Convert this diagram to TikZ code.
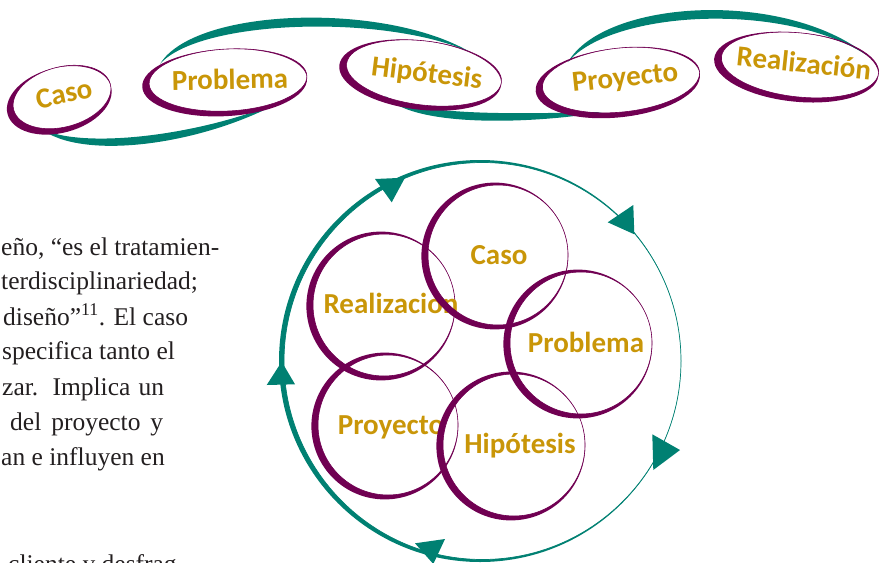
\documentclass[tikz,border=0pt]{standalone}
\usepackage{fontspec}
\setmainfont{Liberation Serif}
\newfontfamily\stagefont{Carlito}
\usetikzlibrary{positioning}

\definecolor{ringpurple}{RGB}{112,0,82}
\definecolor{loopteal}{RGB}{0,128,114}
\definecolor{stagegold}{RGB}{201,150,8}
\definecolor{bodygray}{RGB}{35,31,32}

\newcommand{\ovalring}[5]{%
  \begin{scope}[shift={(#1,#2)}, rotate=#5]
    \fill[ringpurple, even odd rule] (-3.5,2.5) ellipse [x radius=#3+3.5, y radius=#4+2.5]
      (0,0) ellipse [x radius=#3, y radius=#4];
    \draw[ringpurple, line width=0.6pt] (0,0) ellipse [x radius=#3, y radius=#4];
  \end{scope}}
\newcommand{\roundring}[3]{%
  \fill[ringpurple, even odd rule] (#1-3.2,#2+1) circle [radius=#3+3.4] (#1,#2) circle [radius=#3];
  \draw[ringpurple, line width=0.6pt] (#1,#2) circle [radius=#3];}

\begin{document}
\begin{tikzpicture}[x=1pt, y=-1pt,
  stage/.style={font=\stagefont\bfseries\fontsize{29}{31}\selectfont, text=stagegold, inner sep=0pt, text height=18.6pt, text depth=0pt},
  bodyline/.style={anchor=base west, inner sep=0pt, font=\fontsize{25.5}{30}\selectfont, text=bodygray},
  ribbon/.style={fill=loopteal},
  arrowtip/.style={fill=loopteal}
]
\useasboundingbox (0,0) rectangle (885,562);

\node[bodyline] (p1) at (1,255) {eño, “es el tratamien-};
\node[bodyline] (p2) at (1,289) {terdisciplinariedad;};
\node[bodyline] (p3) at (3,325) {diseño”\textsuperscript{11}. El caso};
\node[bodyline] (p4) at (2,359) {specifica tanto el};
\node[bodyline] (p5) at (2,395) {\makebox[162pt][s]{zar. Implica un}};
\node[bodyline] (p6) at (10,430) {\makebox[153pt][s]{del proyecto y}};
\node[bodyline] (p7) at (1,465) {an e influyen en};
\node[bodyline] (p8) at (8,572) {cliente y desfrag-};

\coordinate (a0) at (40,128);  \coordinate (a1) at (282,101);
\coordinate (b0) at (160,64);  \coordinate (b1) at (470,52);
\coordinate (c0) at (385,96);  \coordinate (c1) at (602,112);
\coordinate (d0) at (568,62);  \coordinate (d1) at (868,56);
\fill[ribbon] (a0) .. controls (80,161) and (200,146) .. (a1) .. controls (200,136) and (80,150) .. (a0) -- cycle;
\fill[ribbon] (b0) .. controls (195,7) and (385,2) .. (b1) .. controls (385,14) and (200,19) .. (b0) -- cycle;
\fill[ribbon] (c0) .. controls (415,129) and (540,123) .. (c1) .. controls (540,113) and (420,118) .. (c0) -- cycle;
\fill[ribbon] (d0) .. controls (605,-1) and (785,-11) .. (d1) .. controls (785,1) and (612,10) .. (d0) -- cycle;

\ovalring{62}{97}{50}{30}{15}
\ovalring{228}{80}{79}{31}{3}
\ovalring{424}{73}{78}{32}{-7}
\ovalring{621}{80}{79}{32}{6}
\ovalring{800}{65}{79}{32}{-6}
\node[stage, rotate=12] (caso) at (64,94) {Caso};
\node[stage, rotate=1] (problema) at (230,80) {Problema};
\node[stage, rotate=-7] (hipotesis) at (427,73) {Hipótesis};
\node[stage, rotate=6] (proyecto) at (625,77) {Proyecto};
\node[stage, rotate=-6] (realizacion) at (804,63.5) {Realización};

\fill[loopteal, even odd rule] (480,361) circle [radius=201] (482.5,361) circle [radius=198.5];
\draw[loopteal, line width=0.7pt] (482.5,361) circle [radius=198.5];
\fill[arrowtip] (375,179) -- (405,177.7) -- (391.7,202.3) -- cycle;
\fill[arrowtip] (607.7,222.3) -- (633.3,205) -- (634.3,234.3) -- cycle;
\fill[arrowtip] (652.3,434.3) -- (680,450) -- (653.3,470) -- cycle;
\fill[arrowtip] (415,543.3) -- (445,539) -- (433.3,564) -- cycle;
\fill[arrowtip] (281.7,361.7) -- (266.7,385) -- (295,384.3) -- cycle;

\roundring{384}{305}{71}
\node[stage] (c-realizacion) at (391,304.5) {Realización};
\roundring{388}{425}{70}
\node[stage] (c-proyecto) at (391,425) {Proyecto};
\roundring{498}{255}{70}
\node[stage] (c-caso) at (499,255) {Caso};
\roundring{581}{343}{71}
\node[stage] (c-problema) at (586,343.5) {Problema};
\roundring{514}{445}{71}
\node[stage] (c-hipotesis) at (520,444.5) {Hipótesis};
\end{tikzpicture}
\end{document}
